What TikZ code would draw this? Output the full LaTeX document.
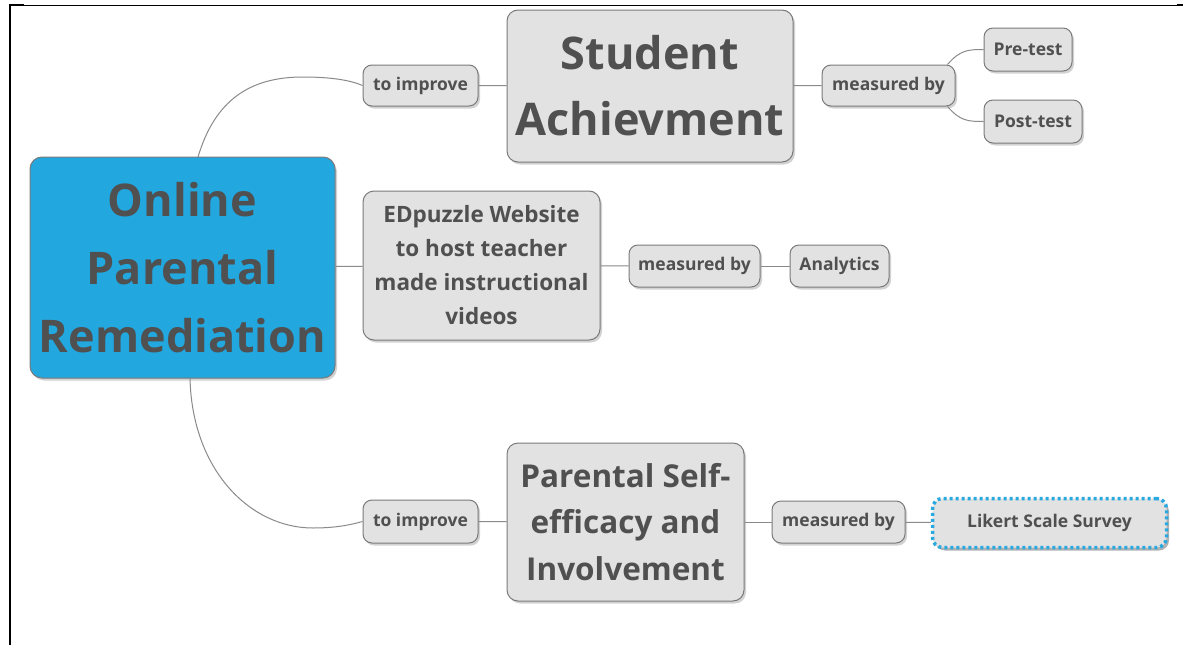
\documentclass[tikz,border=0pt]{standalone}
\usepackage{fontspec}
\setmainfont{Open Sans}
\usetikzlibrary{shadows}
\definecolor{cblue}{HTML}{22A7DF}
\definecolor{boxfill}{HTML}{E2E2E2}
\definecolor{boxline}{HTML}{7A7A7A}
\definecolor{txt}{HTML}{505050}
\definecolor{conn}{HTML}{8A8A8A}
\definecolor{dotblue}{HTML}{2AA8E0}
\begin{document}
\begin{tikzpicture}[x=1pt,y=-1pt,
  every node/.style={font=\bfseries, text=txt, align=center, inner sep=0pt},
  topic/.style={draw=boxline, line width=1pt, fill=boxfill, rounded corners=11pt,
    drop shadow={shadow xshift=2pt, shadow yshift=-2.5pt, opacity=0.35}},
  small/.style={topic, rounded corners=9pt, font=\bfseries\fontsize{17.5}{20}\selectfont},
  conline/.style={draw=conn, line width=1pt}]
\useasboundingbox (0,0) rectangle (1183,645);
\fill[white] (0,0) rectangle (1183,645);
% frame
\draw[black, line width=1pt] (10,5) -- (1178,5);
\draw[black, line width=2pt] (1177,5) -- (1183,5);
\draw[black, line width=2pt] (10,4) -- (10,645);
\draw[black, line width=2pt] (10,5) -- (24,5);

\coordinate (c1) at (198,157);
\coordinate (c2) at (190,378);

% nodes
\node[topic, fill=cblue, minimum width=305pt, minimum height=221pt, rounded corners=12pt,
  font=\bfseries\fontsize{45}{68}\selectfont] (central) at (182.5,267.5)
  {Online\\Parental\\Remediation};

\node[small, minimum width=115pt, minimum height=41pt] (ti1) at (420.5,85.5) {to improve};
\node[topic, minimum width=286pt, minimum height=152pt,
  font=\bfseries\fontsize{45}{66}\selectfont] (sa) at (650,86) {Student\\Achievment};
\node[small, minimum width=133pt, minimum height=41pt] (mb1) at (888.5,85.5) {measured by};
\node[small, minimum width=88pt, minimum height=43pt] (pre) at (1028,49.5) {Pre-test};
\node[small, minimum width=98pt, minimum height=43pt] (post) at (1033,121.5) {Post-test};

\node[topic, minimum width=237pt, minimum height=149pt,
  font=\bfseries\fontsize{22.5}{34}\selectfont] (ed) at (481.5,265.5)
  {EDpuzzle Website\\to host teacher\\made instructional\\videos};
\node[small, minimum width=131pt, minimum height=42pt] (mb2) at (694.5,266) {measured by};
\node[small, minimum width=99pt, minimum height=42pt] (an) at (839.5,266) {Analytics};

\node[small, minimum width=115pt, minimum height=43pt] (ti2) at (420.5,521.5) {to improve};
\node[topic, minimum width=237pt, minimum height=158pt,
  font=\bfseries\fontsize{31.5}{46.5}\selectfont] (ps) at (625.5,522)
  {Parental Self-\\efficacy and\\Involvement};
\node[small, minimum width=133pt, minimum height=42pt] (mb3) at (838.5,522) {measured by};
\node[draw=dotblue, line width=3.5pt, dash pattern=on 3pt off 3pt, fill=boxfill,
  rounded corners=10pt, minimum width=234pt, minimum height=49pt,
  drop shadow={shadow xshift=2.5pt, shadow yshift=-3pt, opacity=0.6},
  font=\bfseries\fontsize{17.5}{20}\selectfont] (lk) at (1049.5,523) {Likert Scale Survey};

% connectors
\draw[conline] (c1) .. controls (215,100) and (250,77) .. (303,77)
  .. controls (330,77) and (350,80) .. (ti1.west);
\draw[conline] (ti1) -- (sa);
\draw[conline] (sa) -- (mb1);
\draw[conline] ([xshift=-8pt]mb1.north east) .. controls (960,50) and (968,49.5) .. (pre.west);
\draw[conline] ([xshift=-8pt]mb1.south east) .. controls (960,121) and (968,121.5) .. (post.west);
\draw[conline] (central) -- (ed);
\draw[conline] (ed) -- (mb2);
\draw[conline] (mb2) -- (an);
\draw[conline] (c2) .. controls (192,470) and (250,528) .. (313,528)
  .. controls (335,528) and (350,525) .. (ti2.west);
\draw[conline] (ti2) -- (ps);
\draw[conline] (ps) -- (mb3);
\draw[conline] (mb3) -- (lk);
\end{tikzpicture}
\end{document}
